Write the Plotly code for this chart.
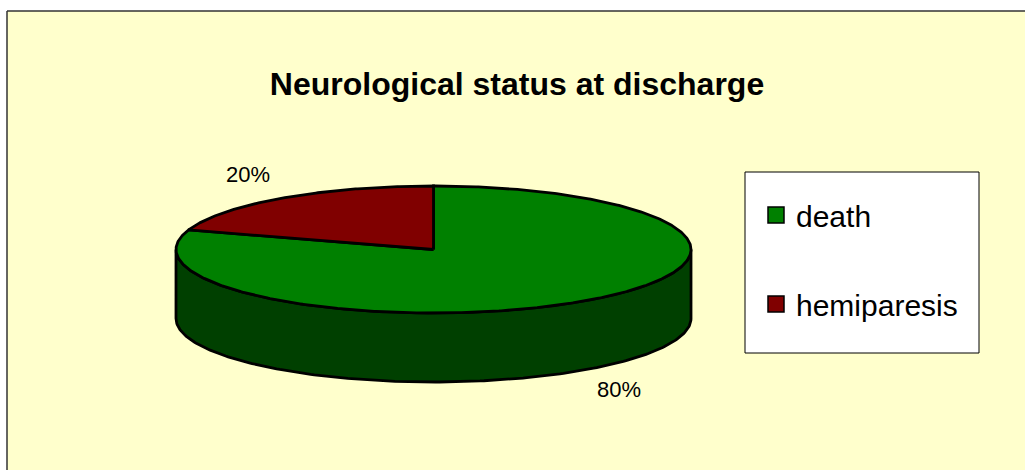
import numpy as np
import plotly.graph_objects as go

# ---- data ----
categories = ["death", "hemiparesis"]
values = [80, 20]
top_colors = ["#008000", "#800000"]
side_colors = ["#004000", "#400000"]
title_text = "Neurological status at discharge"

# ---- layout geometry (pixel space) ----
W, H = 1025, 470
CX, CY = 433.5, 249.5
RX, RY = 257.5, 63.5
DEPTH = 69
FONT = "Liberation Sans, Arial, sans-serif"


def pt(theta_deg, rx=RX, ry=RY, dy=0.0):
    t = np.radians(np.asarray(theta_deg, dtype=float))
    return CX + rx * np.sin(t), CY - ry * np.cos(t) + dy


total = float(sum(values))
angles = np.concatenate([[0.0], np.cumsum([v / total * 360.0 for v in values])])

fig = go.Figure()

# side walls (front half only: 90..270 deg clockwise from top)
for i, cat in enumerate(categories):
    a0, a1 = angles[i], angles[i + 1]
    s0, s1 = max(a0, 90.0), min(a1, 270.0)
    if s1 > s0:
        th = np.linspace(s0, s1, 200)
        xt, yt = pt(th)
        xb, yb = pt(th[::-1], dy=DEPTH)
        xs = np.concatenate([xt, xb, xt[:1]])
        ys = np.concatenate([yt, yb, yt[:1]])
        fig.add_trace(go.Scatter(
            x=xs, y=ys, mode="lines", fill="toself",
            fillcolor=side_colors[i],
            line=dict(color="black", width=2.8),
            showlegend=False, hoverinfo="skip"))

# top faces
for i, cat in enumerate(categories):
    a0, a1 = angles[i], angles[i + 1]
    th = np.linspace(a0, a1, max(3, int((a1 - a0) * 2)))
    xa, ya = pt(th)
    xs = np.concatenate([[CX], xa, [CX]])
    ys = np.concatenate([[CY], ya, [CY]])
    fig.add_trace(go.Scatter(
        x=xs, y=ys, mode="lines", fill="toself",
        fillcolor=top_colors[i],
        line=dict(color="black", width=2.8),
        showlegend=False, hoverinfo="skip"))

# percentage labels
lx, ly, lt = [], [], []
for i, v in enumerate(values):
    mid = (angles[i] + angles[i + 1]) / 2.0
    dy = DEPTH if 90 < mid < 270 else 0.0
    x, y = pt(mid, RX + 58, RY + 27, dy=dy)
    lx.append(float(x))
    ly.append(float(y))
    lt.append(f"{round(v / total * 100)}%")
fig.add_trace(go.Scatter(
    x=lx, y=ly, mode="text", text=lt, textposition="middle center",
    textfont=dict(family=FONT, size=22, color="black"),
    showlegend=False, hoverinfo="skip"))

# legend entries
for i, cat in enumerate(categories):
    fig.add_trace(go.Scatter(
        x=[None], y=[None], mode="markers", name=cat, legendgroup=cat,
        marker=dict(symbol="square", size=18, color=top_colors[i],
                    line=dict(color="black", width=1.5))))

fig.update_layout(
    width=W, height=H,
    margin=dict(l=0, r=0, t=0, b=0),
    paper_bgcolor="white",
    plot_bgcolor="rgba(0,0,0,0)",
    xaxis=dict(range=[0, W], visible=False, fixedrange=True),
    yaxis=dict(range=[H, 0], visible=False, fixedrange=True),
    title=dict(text=title_text, x=517 / W, y=1 - 84 / H,
               xanchor="center", yanchor="middle",
               font=dict(family=FONT, size=32, color="black", weight="bold")),
    legend=dict(x=756 / W, y=1 - 189 / H,
                xanchor="left", yanchor="top",
                bgcolor="rgba(0,0,0,0)", borderwidth=0,
                font=dict(family=FONT, size=30, color="black"),
                traceorder="grouped", tracegroupgap=47, itemsizing="trace"),
    shapes=[
        dict(type="rect", xref="x", yref="y", x0=7, y0=11, x1=W + 60, y1=H + 60,
             fillcolor="#FFFFCC", line=dict(width=0), layer="below"),
        dict(type="line", xref="x", yref="y", x0=7, y0=11, x1=W + 60, y1=11,
             line=dict(color="#333333", width=1.5), layer="below"),
        dict(type="line", xref="x", yref="y", x0=7, y0=11, x1=7, y1=H + 60,
             line=dict(color="#333333", width=1.5), layer="below"),
        dict(type="rect", xref="x", yref="y", x0=745, y0=172, x1=979, y1=353,
             fillcolor="white", line=dict(color="black", width=1), layer="below"),
    ],
    showlegend=True,
)

fig.write_html(
    "out.html",
    config={"displayModeBar": False, "staticPlot": True},
    post_script="document.documentElement.style.overflow='hidden';"
                "document.body.style.margin='0';document.body.style.overflow='hidden';",
)
